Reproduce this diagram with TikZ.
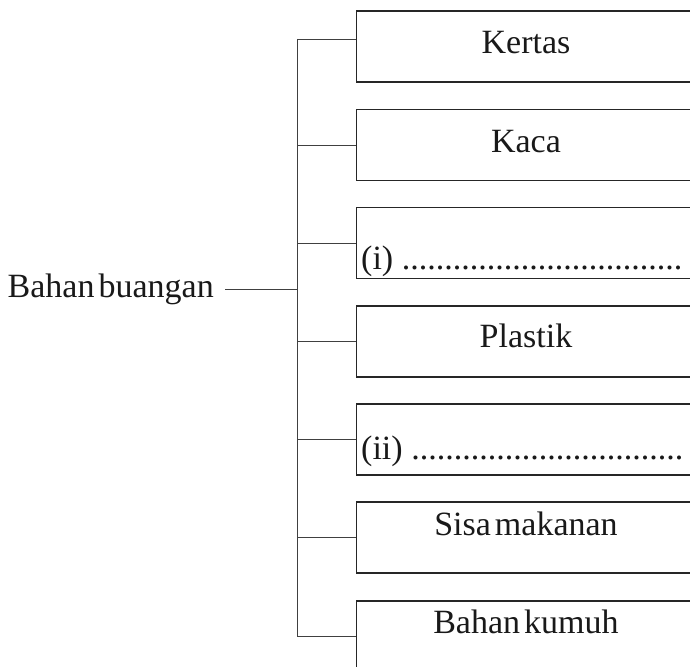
\documentclass[tikz,border=0pt]{standalone}
\usepackage{fontspec}
\setmainfont{Liberation Serif}
\newcommand{\tsp}{\hspace{0.12em}}
\begin{document}
\begin{tikzpicture}[x=1pt,y=1pt,
  box/.style={draw=black!85, line width=1.2pt, rectangle, minimum width=345pt, minimum height=71pt, anchor=west, inner sep=0pt},
  lbl/.style={font=\fontsize{34}{38}\selectfont, anchor=base, inner sep=0pt, text=black!90},
  conn/.style={draw=black!75, line width=0.9pt}]
\useasboundingbox (0,0) rectangle (690,666);
\clip (0,0) rectangle (690,666);
% boxes
\node[box] (b1) at (356,619.5) {};
\node[box] (b2) at (356,521) {};
\node[box] (b3) at (356,423) {};
\node[box] (b4) at (356,324.5) {};
\node[box] (b5) at (356,226.5) {};
\node[box] (b6) at (356,128.5) {};
\node[box] (b7) at (356,29.5) {};
% texts
\node[lbl] (t1) at (526,612) {Kertas};
\node[lbl] (t2) at (526,513) {Kaca};
\node[lbl, anchor=base west] (t3) at (361,396) {(i) .................................};
\node[lbl] (t4) at (526,318) {Plastik};
\node[lbl, anchor=base west] (t5) at (361,206) {(ii) ................................};
\node[lbl] (t6) at (526,130) {Sisa\tsp makanan};
\node[lbl] (t7) at (526,32) {Bahan\tsp kumuh};
\node[lbl, anchor=base east] (root) at (214,368) {Bahan\tsp buangan};
% connectors
\coordinate (st) at (297,627);
\coordinate (sb) at (297,29.5);
\draw[conn] (st) -- (sb);
\draw[conn] (st) -- (st -| b1.west);
\foreach \i in {2,...,7} {\draw[conn] (b\i.west -| st) -- (b\i.west);}
\draw[conn] ([xshift=11pt]root.east) -- (root.east -| st);
\end{tikzpicture}
\end{document}
